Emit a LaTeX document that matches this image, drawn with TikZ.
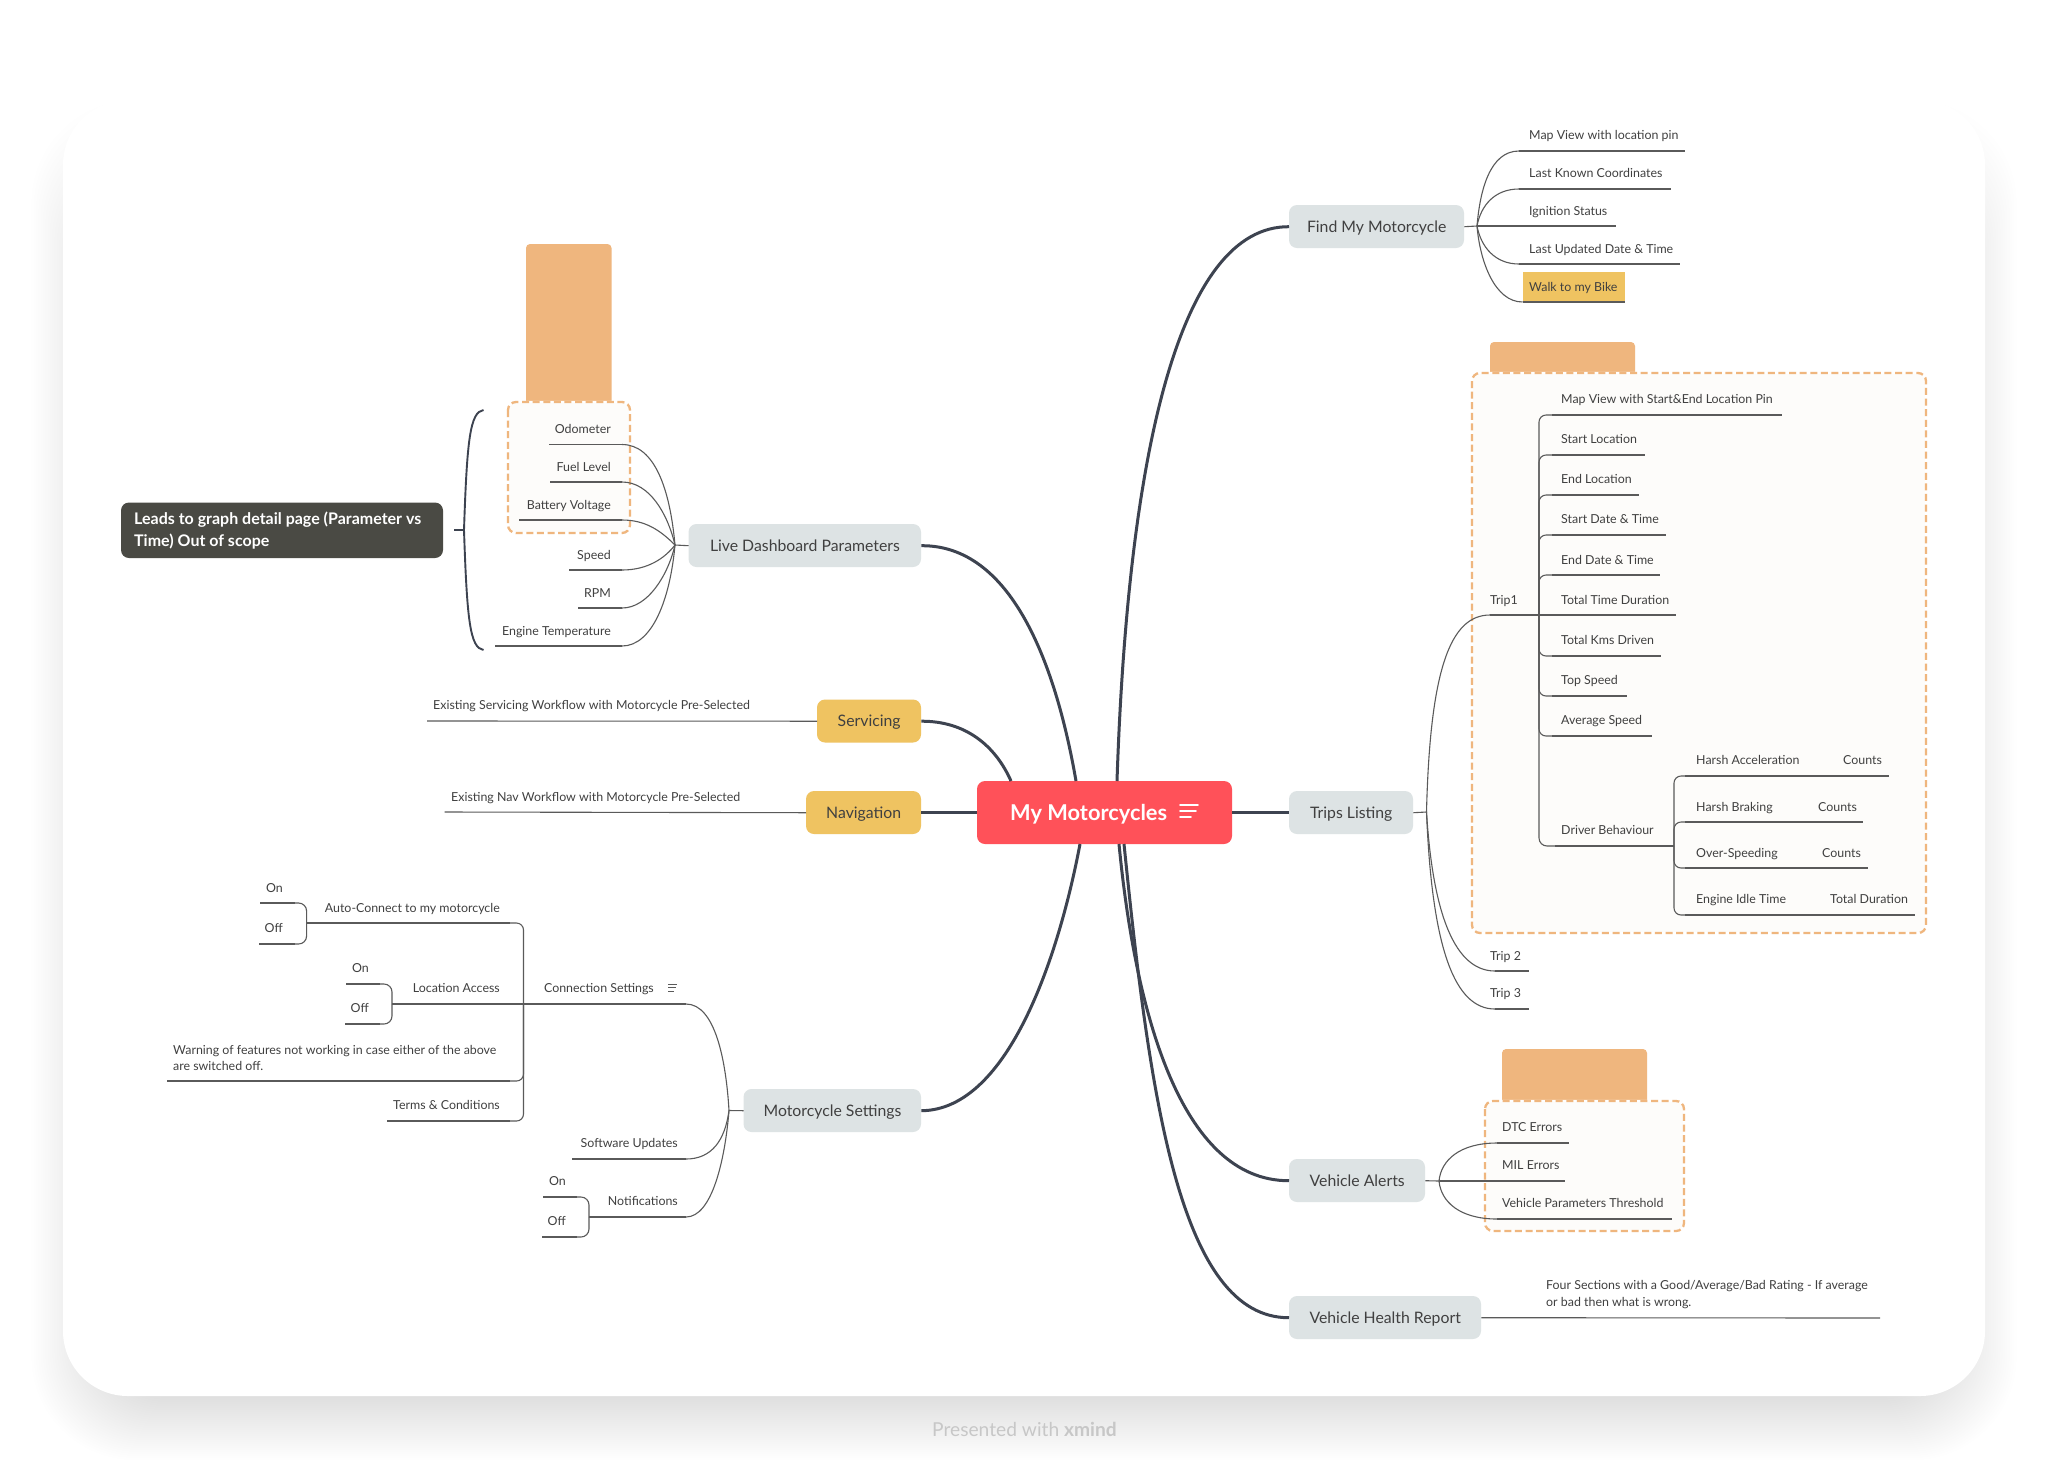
\documentclass[tikz,border=0pt]{standalone}
\usepackage{fontspec}
\setmainfont{Lato}
\usetikzlibrary{calc}
\definecolor{thick}{HTML}{3D4350}
\definecolor{lineg}{HTML}{5A5A5A}
\definecolor{txt}{HTML}{404040}
\definecolor{mainfill}{HTML}{DDE3E4}
\definecolor{yel}{HTML}{EFC361}
\definecolor{org}{HTML}{EFB67E}
\definecolor{boxfill}{HTML}{FDFCFA}
\definecolor{red}{HTML}{FF5159}
\definecolor{darkbox}{HTML}{4A4A44}
\tikzset{
  lbl/.style={anchor=west,inner sep=0pt,text=txt,font=\fontsize{12.4}{16}\selectfont,text height=9pt,text depth=3pt,yshift=-1.6pt},
  lblr/.style={lbl,anchor=east},
  lblm/.style={anchor=west,inner sep=0pt,text=txt,font=\fontsize{12.4}{16.2}\selectfont,align=left,yshift=-0.6pt},
  topic/.style={inner sep=0pt,rounded corners=8pt,fill=mainfill},
  ttext/.style={inner sep=0pt,text=txt,font=\fontsize{15.8}{18}\selectfont,text height=11pt,text depth=4pt,yshift=-1.8pt},
  thin1/.style={draw=lineg,line width=1.1pt},
  thick1/.style={draw=thick,line width=3pt},
  tab/.style={fill=org,rounded corners=4pt},
  dashbox/.style={fill=boxfill,rounded corners=8pt},
  dashline/.style={draw=org,line width=2.3pt,dash pattern=on 7pt off 3.6pt,rounded corners=8pt},
  gapline/.style={draw=white,line width=2.3pt,rounded corners=8pt},
}
% name, text x, text y, text, hub-side x, far x, line y
\newcommand{\leafL}[7]{\node[lbl] (#1) at (#2,#3) {#4};\coordinate (#1-s) at (#5,#7);\coordinate (#1-e) at (#6,#7);\draw[thin1] (#1-s)--(#1-e);}
\newcommand{\leafR}[7]{\node[lblr] (#1) at (#2,#3) {#4};\coordinate (#1-s) at (#5,#7);\coordinate (#1-e) at (#6,#7);\draw[thin1] (#1-s)--(#1-e);}
% name, x0,y0,x1,y1, fill, text
\newcommand{\topicbox}[7]{\path[fill=#6,rounded corners=8pt] (#2,#3) rectangle (#4,#5);\node[inner sep=0pt,minimum width={#4-#2},minimum height={#5-#3},anchor=north west] (#1) at (#2,#3) {};\node[ttext] (#1-t) at (#1.center) {#7};}
\begin{document}
\begin{tikzpicture}[x=1pt,y=-1pt]
\useasboundingbox (0,0) rectangle (2048,1460);
\fill[white] (0,0) rectangle (2048,1460);
% card shadow
\foreach \i in {0,...,32}{
  \fill[black,opacity=0.0032,rounded corners={65pt+1.2pt*\i}] ({63+42-2.3*\i},{260-5*\i}) rectangle ({1985-42+2.3*\i},{1396+2.0*\i});
}
\fill[white,rounded corners=65pt] (63,100) rectangle (1985,1396);
\node[inner sep=0pt,text=black!22,font=\fontsize{19.2}{20}\selectfont] (footer) at (1024.5,1429) {Presented with \textbf{xmind}};

% boundary boxes
\path[tab] (526,244) rectangle (611.5,406);
\path[dashbox] (508,402) rectangle (630,533);
\draw[gapline] (508,402) rectangle (630,533);
\draw[dashline] (508,402) rectangle (630,533);
\path[tab] (1490,342) rectangle (1635,378);
\path[dashbox] (1472,373) rectangle (1926,933);
\draw[gapline] (1472,373) rectangle (1926,933);
\draw[dashline] (1472,373) rectangle (1926,933);
\path[tab] (1502,1049) rectangle (1647,1106);
\path[dashbox] (1485,1101) rectangle (1684,1231);
\draw[gapline] (1485,1101) rectangle (1684,1231);
\draw[dashline] (1485,1101) rectangle (1684,1231);

% topics
\path[fill=red,rounded corners=8pt] (977,781) rectangle (1232,844);
\node[inner sep=0pt,minimum width=255pt,minimum height=63pt,anchor=north west] (central) at (977,781) {};
\node[inner sep=0pt,text=white,font=\fontsize{21.8}{24}\bfseries\selectfont,text height=16pt,text depth=5pt,anchor=west,yshift=-3pt] (central-t) at (1010,812) {My Motorcycles};
\coordinate (ci1a) at (1180,805);\coordinate (ci1b) at (1198,805);
\coordinate (ci2a) at (1180,811);\coordinate (ci2b) at (1196,811);
\coordinate (ci3a) at (1180,817);\coordinate (ci3b) at (1191,817);
\draw[white,line width=1.8pt,line cap=round] (ci1a)--(ci1b) (ci2a)--(ci2b) (ci3a)--(ci3b);

\topicbox{find}{1289}{205}{1464}{248}{mainfill}{Find My Motorcycle}
\topicbox{trips}{1289}{791}{1413}{834}{mainfill}{Trips Listing}
\topicbox{alerts}{1289}{1159}{1425}{1202}{mainfill}{Vehicle Alerts}
\topicbox{health}{1289}{1296}{1481}{1339}{mainfill}{Vehicle Health Report}
\topicbox{live}{688.5}{524}{921}{567}{mainfill}{Live Dashboard Parameters}
\topicbox{serv}{817}{699.5}{921}{742.5}{yel}{Servicing}
\topicbox{nav}{806}{791}{921}{834}{yel}{Navigation}
\topicbox{moto}{743.5}{1089}{921}{1132}{mainfill}{Motorcycle Settings}

% main branches
\coordinate (cFind) at (1117,781);
\coordinate (cServ) at (1011,781);
\coordinate (cLive) at (1076,781);
\coordinate (cMoto) at (1080,844);
\coordinate (cAlert) at (1119,844);
\coordinate (cHealth) at (1124,844);
\draw[thick1] (cFind) .. controls (1128,450) and (1180,226) .. (find.west);
\draw[thick1] (central.east) -- (trips.west);
\draw[thick1] (nav.east) -- (central.west);
\draw[thick1] (serv.east) .. controls (965,721) and (995,745) .. (cServ);
\draw[thick1] (live.east) .. controls (1010,545) and (1055,660) .. (cLive);
\draw[thick1] (moto.east) .. controls (1010,1110) and (1060,950) .. (cMoto);
\draw[thick1] (cAlert) .. controls (1135,1010) and (1180,1181) .. (alerts.west);
\draw[thick1] (cHealth) .. controls (1150,1100) and (1180,1318) .. (health.west);

% Find My Motorcycle
\coordinate (fh) at (1477,226);
\draw[thin1] (find.east)--(fh);
\leafL{f1}{1529}{135}{Map View with location pin}{1519}{1685}{151}
\leafL{f2}{1529}{173}{Last Known Coordinates}{1519}{1671}{189}
\leafL{f4}{1529}{249}{Last Updated Date \& Time}{1519}{1680}{264}
\fill[yel] (1522.5,272) rectangle (1625,302);
\leafL{f5}{1529}{287}{Walk to my Bike}{1522.5}{1625}{302}
\leafL{f3}{1529}{211}{Ignition Status}{1477}{1616}{226}
\draw[thin1] (fh) .. controls (1480,190) and (1490,151) .. (f1-s);
\draw[thin1] (fh) .. controls (1481,205) and (1495,189) .. (f2-s);
\draw[thin1] (fh) .. controls (1481,247) and (1495,264) .. (f4-s);
\draw[thin1] (fh) .. controls (1480,262) and (1495,302) .. (f5-s);

% Trips
\coordinate (th) at (1426.5,812);
\draw[thin1] (trips.east)--(th);
\leafL{trip1}{1490}{600}{Trip1}{1490}{1676}{615}
\leafL{trip2}{1490}{956}{Trip 2}{1495}{1529}{971}
\leafL{trip3}{1490}{993}{Trip 3}{1495}{1529}{1009}
\draw[thin1] (th) .. controls (1430,670) and (1450,615) .. (trip1-s);
\draw[thin1] (th) .. controls (1432,900) and (1450,971) .. (trip2-s);
\draw[thin1] (th) .. controls (1432,950) and (1455,1009) .. (trip3-s);
\coordinate (tk) at (1539,615);
\leafL{t1}{1561}{399}{Map View with Start\&End Location Pin}{1552}{1782}{415}
\leafL{t2}{1561}{439}{Start Location}{1552}{1645}{455}
\leafL{t3}{1561}{479}{End Location}{1552}{1639}{495}
\leafL{t4}{1561}{519}{Start Date \& Time}{1552}{1666}{535}
\leafL{t5}{1561}{560}{End Date \& Time}{1552}{1660}{575}
\node[lbl] (t6) at (1561,600) {Total Time Duration};
\leafL{t7}{1561}{640}{Total Kms Driven}{1552}{1661}{656}
\leafL{t8}{1561}{680}{Top Speed}{1552}{1627}{696}
\leafL{t9}{1561}{720}{Average Speed}{1552}{1652}{736}
\leafL{t10}{1561}{830}{Driver Behaviour}{1555}{1674}{846}
\foreach \n in {t1,t2,t3,t4,t5,t7,t8,t9}{\draw[thin1,rounded corners=7pt] (tk) |- (\n-s);}
\draw[thin1,rounded corners=8pt] (tk) |- (t10-s);
\coordinate (dh) at (1674,846);
\leafL{d1}{1696}{760}{Harsh Acceleration}{1685}{1889}{776}
\node[lbl] (d1b) at (1843,760) {Counts};
\leafL{d2}{1696}{807}{Harsh Braking}{1685}{1863}{822}
\node[lbl] (d2b) at (1818,807) {Counts};
\leafL{d3}{1696}{853}{Over-Speeding}{1685}{1868}{868}
\node[lbl] (d3b) at (1822,853) {Counts};
\leafL{d4}{1696}{899}{Engine Idle Time}{1685}{1915}{915}
\node[lbl] (d4b) at (1830,899) {Total Duration};
\foreach \n in {d1,d2,d3,d4}{\draw[thin1,rounded corners=7pt] (dh) |- (\n-s);}

% Vehicle alerts
\coordinate (ah) at (1439,1181);
\draw[thin1] (alerts.east)--(ah);
\leafL{a1}{1502}{1127}{DTC Errors}{1497}{1569}{1143}
\leafL{a2}{1502}{1165}{MIL Errors}{1439}{1565}{1181}
\leafL{a3}{1502}{1203}{Vehicle Parameters Threshold}{1497}{1672}{1219}
\draw[thin1] (ah) .. controls (1441,1160) and (1460,1143) .. (a1-s);
\draw[thin1] (ah) .. controls (1441,1202) and (1460,1219) .. (a3-s);

% Health
\coordinate (hEnd) at (1880,1318);
\draw[thin1] (health.east)--(hEnd);
\node[lblm] (h1) at (1546,1294) {Four Sections with a Good/Average/Bad Rating - If average\\or bad then what is wrong.};

% Live dashboard
\coordinate (lh) at (675,545);
\draw[thin1] (live.west)--(lh);
\leafR{l1}{611}{428.5}{Odometer}{622}{549}{444.5}
\leafR{l2}{611}{466.5}{Fuel Level}{622}{550}{482}
\leafR{l3}{611}{504.5}{Battery Voltage}{622}{519}{520}
\leafR{l4}{611}{555}{Speed}{622}{569}{570}
\leafR{l5}{611}{593}{RPM}{622}{578}{608}
\leafR{l6}{611}{630.5}{Engine Temperature}{622}{494.5}{646}
\draw[thin1] (lh) .. controls (670,490) and (655,444.5) .. (l1-s);
\draw[thin1] (lh) .. controls (668,515) and (650,482) .. (l2-s);
\draw[thin1] (lh) .. controls (660,530) and (645,520) .. (l3-s);
\draw[thin1] (lh) .. controls (665,558) and (648,570) .. (l4-s);
\draw[thin1] (lh) .. controls (668,575) and (648,608) .. (l5-s);
\draw[thin1] (lh) .. controls (670,600) and (652,646) .. (l6-s);

% bracket and callout
\coordinate (brT) at (483.5,410);
\coordinate (brM) at (464,530);
\coordinate (brB) at (483.5,650);
\coordinate (brS) at (454,530);
\draw[draw=thick,line width=1.9pt] (brT) .. controls (470,412) and (467,440) .. (brM) .. controls (467,620) and (470,648) .. (brB);
\draw[draw=thick,line width=1.9pt] (brS)--(brM);
\path[fill=darkbox,rounded corners=8pt] (121,502.5) rectangle (443,558);
\node[anchor=west,inner sep=0pt,text=white,font=\fontsize{16}{21.4}\bfseries\selectfont,align=left] (callout) at (134,530.5) {Leads to graph detail page (Parameter vs\\Time) Out of scope};

% Servicing / Navigation
\coordinate (sEnd) at (427,721);
\coordinate (nEnd) at (444.5,812);
\draw[thin1] (serv.west)--(sEnd);
\draw[thin1] (nav.west)--(nEnd);
\node[lbl] (s1) at (433,705) {Existing Servicing Workflow with Motorcycle Pre-Selected};
\node[lbl] (n1) at (451,797) {Existing Nav Workflow with Motorcycle Pre-Selected};

% Motorcycle settings
\coordinate (mh) at (729,1110.5);
\draw[thin1] (moto.west)--(mh);
\leafR{m1}{654}{988}{Connection Settings}{686}{523.5}{1004}
\leafR{m2}{678}{1143}{Software Updates}{686}{572}{1159}
\leafR{m3}{678}{1201}{Notifications}{686}{589}{1217}
\draw[thin1] (mh) .. controls (726,1060) and (715,1004) .. (m1-s);
\draw[thin1] (mh) .. controls (725,1140) and (712,1159) .. (m2-s);
\draw[thin1] (mh) .. controls (725,1160) and (712,1217) .. (m3-s);
\coordinate (mi1a) at (668,984);\coordinate (mi1b) at (677,984);
\coordinate (mi2a) at (668,987.5);\coordinate (mi2b) at (676,987.5);
\coordinate (mi3a) at (668,991);\coordinate (mi3b) at (674,991);
\draw[lineg,line width=1pt] (mi1a)--(mi1b) (mi2a)--(mi2b) (mi3a)--(mi3b);
% connection settings children
\leafR{c1}{500}{908}{Auto-Connect to my motorcycle}{510}{306.6}{923}
\leafR{c2}{500}{988}{Location Access}{523.5}{392}{1004}
\node[lblm] (c3) at (173,1057) {Warning of features not working in case either of the above\\are switched off.};
\coordinate (c3-s) at (510,1081);\coordinate (c3-e) at (167,1081);
\draw[thin1] (c3-s)--(c3-e);
\leafR{c4}{500}{1105}{Terms \& Conditions}{510}{387}{1121}
\foreach \n in {c1,c3,c4}{\draw[thin1,rounded corners=7pt] (m1-e) |- (\n-s);}
% on/off groups
\leafR{o1}{283}{888}{On}{295}{260}{903}
\leafR{o2}{283}{928}{Off}{295}{259}{944}
\draw[thin1,rounded corners=8pt] (c1-e) |- (o1-s);
\draw[thin1,rounded corners=8pt] (c1-e) |- (o2-s);
\leafR{o3}{369}{968}{On}{380}{346}{984}
\leafR{o4}{369}{1008}{Off}{380}{345}{1024}
\draw[thin1,rounded corners=8pt] (c2-e) |- (o3-s);
\draw[thin1,rounded corners=8pt] (c2-e) |- (o4-s);
\leafR{o5}{566}{1181}{On}{577}{543}{1197}
\leafR{o6}{566}{1221}{Off}{577}{542}{1237}
\draw[thin1,rounded corners=8pt] (m3-e) |- (o5-s);
\draw[thin1,rounded corners=8pt] (m3-e) |- (o6-s);
\end{tikzpicture}
\end{document}
